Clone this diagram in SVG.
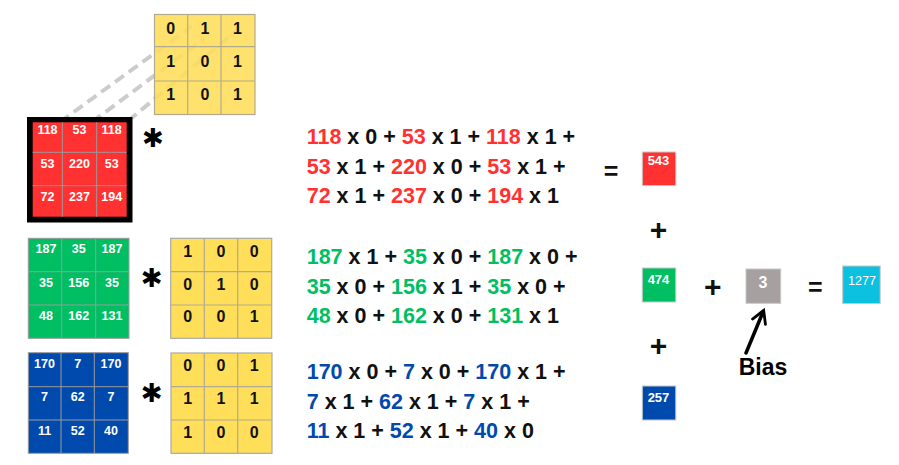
<svg xmlns="http://www.w3.org/2000/svg" width="899" height="465" viewBox="0 0 899 465">
<style>
text{font-family:"Liberation Sans",Arial,sans-serif;font-weight:bold}
.cw{fill:#fff;font-size:12.5px;text-anchor:middle}
.ck{fill:#111;font-size:16px;text-anchor:middle}
.eq{font-size:21.5px;fill:#111}
.r{fill:#FF3131}.g{fill:#00BF63}.b{fill:#004AAD}
.grid{stroke:#9a9a9a;stroke-width:1;fill:none}
.ygrid{stroke:#b3aa8e;stroke-width:1.2;fill:none}
.sign{font-size:30px;fill:#111;text-anchor:middle}
.eqs{font-size:25px;fill:#111;text-anchor:middle}
.star{font-family:"DejaVu Sans",sans-serif;font-size:26px;fill:#000;text-anchor:middle}
.dash{stroke:#cccccc;stroke-width:4;stroke-dasharray:11 6;fill:none}
.sq{stroke:#c8c8c8;stroke-width:1}
.sqt{fill:#fff;font-size:13px;text-anchor:middle}
</style>
<defs>
<marker id="ah" viewBox="0 0 10 10" refX="7" refY="5" markerWidth="5" markerHeight="5" orient="auto" markerUnits="strokeWidth">
<path d="M1,1 L8,5 L1,9" fill="none" stroke="#000" stroke-width="1.6" stroke-linecap="round"/>
</marker>
</defs>
<rect width="899" height="465" fill="#fff"/>

<g id="connectors">
<line class="dash" x1="60" y1="122" x2="192" y2="26"/>
<line class="dash" x1="92" y1="122" x2="205" y2="38"/>
<line class="dash" x1="128" y1="121" x2="235" y2="32"/>
<line x1="746" y1="353" x2="763" y2="312" stroke="#000" stroke-width="3.5" stroke-linecap="round" marker-end="url(#ah)"/>
</g>

<g id="kernel1">
<rect x="154.5" y="14.5" width="100.5" height="100" fill="#FFDE59" fill-opacity="0.88" stroke="#b3aa8e" stroke-width="1.2"/>
<path class="ygrid" d="M187.7,14.5V114.5M221,14.5V114.5M154.5,46.7H255M154.5,81H255"/>
<text class="ck" x="170.7" y="33.5">0</text><text class="ck" x="205" y="33.5">1</text><text class="ck" x="237.5" y="33.5">1</text>
<text class="ck" x="170.7" y="67">1</text><text class="ck" x="205" y="67">0</text><text class="ck" x="237.5" y="67">1</text>
<text class="ck" x="170.7" y="100">1</text><text class="ck" x="205" y="100">0</text><text class="ck" x="237.5" y="100">1</text>
</g>

<g id="red-matrix">
<rect x="27" y="117" width="105.5" height="105.5" fill="#000"/>
<rect x="32.7" y="122.3" width="94" height="94.4" fill="#FF3131"/>
<path class="grid" d="M62.3,122.3V216.7M96.7,122.3V216.7M32.7,152.3H126.7M32.7,185.7H126.7"/>
<text class="cw" x="47.5" y="134">118</text><text class="cw" x="79.5" y="134">53</text><text class="cw" x="111.7" y="134">118</text>
<text class="cw" x="47.5" y="168">53</text><text class="cw" x="79.5" y="168">220</text><text class="cw" x="111.7" y="168">53</text>
<text class="cw" x="47.5" y="201">72</text><text class="cw" x="79.5" y="201">237</text><text class="cw" x="111.7" y="201">194</text>
</g>
<text id="star1" class="star" x="153" y="147">✱</text>

<g id="green-matrix">
<rect x="28.3" y="238.3" width="100.7" height="100" fill="#00BF63" stroke="#9a9a9a" stroke-width="1"/>
<path class="grid" d="M61.7,238.3V338.3M95.7,238.3V338.3M28.3,271.7H129M28.3,305H129"/>
<text class="cw" x="46" y="253.3">187</text><text class="cw" x="78.7" y="253.3">35</text><text class="cw" x="112" y="253.3">187</text>
<text class="cw" x="46" y="286.7">35</text><text class="cw" x="78.7" y="286.7">156</text><text class="cw" x="112" y="286.7">35</text>
<text class="cw" x="46" y="320">48</text><text class="cw" x="78.7" y="320">162</text><text class="cw" x="112" y="320">131</text>
</g>
<text id="star2" class="star" x="151.7" y="287">✱</text>
<g id="kernel2">
<rect x="170.7" y="238.3" width="101" height="100" fill="#FFDE59" stroke="#a9a9a9" stroke-width="1.2"/>
<path class="ygrid" d="M204.3,238.3V338.3M237.7,238.3V338.3M170.7,271.7H271.7M170.7,305H271.7"/>
<text class="ck" x="187.7" y="257.3">1</text><text class="ck" x="221" y="257.3">0</text><text class="ck" x="254.3" y="257.3">0</text>
<text class="ck" x="187.7" y="289.5">0</text><text class="ck" x="221" y="289.5">1</text><text class="ck" x="254.3" y="289.5">0</text>
<text class="ck" x="187.7" y="322.3">0</text><text class="ck" x="221" y="322.3">0</text><text class="ck" x="254.3" y="322.3">1</text>
</g>

<g id="blue-matrix">
<rect x="28.3" y="352.7" width="100" height="100.6" fill="#004AAD" stroke="#9a9a9a" stroke-width="1"/>
<path class="grid" d="M61,352.7V453.3M94.3,352.7V453.3M28.3,386.7H128.3M28.3,420H128.3"/>
<text class="cw" x="44.5" y="367.7">170</text><text class="cw" x="77.7" y="367.7">7</text><text class="cw" x="111" y="367.7">170</text>
<text class="cw" x="44.5" y="401">7</text><text class="cw" x="77.7" y="401">62</text><text class="cw" x="111" y="401">7</text>
<text class="cw" x="44.5" y="435">11</text><text class="cw" x="77.7" y="435">52</text><text class="cw" x="111" y="435">40</text>
</g>
<text id="star3" class="star" x="151.7" y="402">✱</text>
<g id="kernel3">
<rect x="171" y="353" width="101" height="100.3" fill="#FFDE59" stroke="#a9a9a9" stroke-width="1.2"/>
<path class="ygrid" d="M204.3,353V453.3M237.7,353V453.3M171,386.7H272M171,420H272"/>
<text class="ck" x="187.7" y="370.7">0</text><text class="ck" x="221" y="370.7">0</text><text class="ck" x="254.3" y="370.7">1</text>
<text class="ck" x="187.7" y="404">1</text><text class="ck" x="221" y="404">1</text><text class="ck" x="254.3" y="404">1</text>
<text class="ck" x="187.7" y="437.7">1</text><text class="ck" x="221" y="437.7">0</text><text class="ck" x="254.3" y="437.7">0</text>
</g>

<g id="eq-red">
<text class="eq" x="306.7" y="144.3"><tspan class="r">118</tspan> x 0 + <tspan class="r">53</tspan> x 1 + <tspan class="r">118</tspan> x 1 +</text>
<text class="eq" x="306.7" y="173.5"><tspan class="r">53</tspan> x 1 + <tspan class="r">220</tspan> x 0 + <tspan class="r">53</tspan> x 1 +</text>
<text class="eq" x="306.7" y="202.7"><tspan class="r">72</tspan> x 1 + <tspan class="r">237</tspan> x 0 + <tspan class="r">194</tspan> x 1</text>
</g>
<g id="eq-green">
<text class="eq" x="306.7" y="264.3"><tspan class="g">187</tspan> x 1 + <tspan class="g">35</tspan> x 0 + <tspan class="g">187</tspan> x 0 +</text>
<text class="eq" x="306.7" y="293.5"><tspan class="g">35</tspan> x 0 + <tspan class="g">156</tspan> x 1 + <tspan class="g">35</tspan> x 0 +</text>
<text class="eq" x="306.7" y="322.7"><tspan class="g">48</tspan> x 0 + <tspan class="g">162</tspan> x 0 + <tspan class="g">131</tspan> x 1</text>
</g>
<g id="eq-blue">
<text class="eq" x="306.7" y="379.3"><tspan class="b">170</tspan> x 0 + <tspan class="b">7</tspan> x 0 + <tspan class="b">170</tspan> x 1 +</text>
<text class="eq" x="306.7" y="408.5"><tspan class="b">7</tspan> x 1 + <tspan class="b">62</tspan> x 1 + <tspan class="b">7</tspan> x 1 +</text>
<text class="eq" x="306.7" y="437.7"><tspan class="b">11</tspan> x 1 + <tspan class="b">52</tspan> x 1 + <tspan class="b">40</tspan> x 0</text>
</g>

<text class="eqs" x="611" y="180">=</text>
<g id="out-red">
<rect class="sq" x="642.3" y="152" width="33.5" height="33.5" fill="#FF3131"/>
<text class="sqt" x="658.5" y="165">543</text>
</g>
<text class="sign" x="658.5" y="239.5">+</text>
<g id="out-green">
<rect class="sq" x="642.3" y="268" width="33.5" height="34" fill="#00BF63"/>
<text class="sqt" x="658.5" y="283.5">474</text>
</g>
<text class="sign" x="658.5" y="355.5">+</text>
<g id="out-blue">
<rect class="sq" x="642.3" y="386" width="33.5" height="34" fill="#004AAD"/>
<text class="sqt" x="658.5" y="401.5">257</text>
</g>
<text class="sign" x="712.7" y="297">+</text>
<g id="bias">
<rect class="sq" x="746" y="269" width="34.7" height="34.3" fill="#A6A0A0"/>
<text x="763" y="288.3" fill="#fff" font-size="16px" text-anchor="middle">3</text>
</g>
<text class="eqs" x="815.3" y="296">=</text>
<g id="result">
<rect class="sq" x="842.7" y="266" width="37.5" height="37.5" fill="#0CC0DF"/>
<text x="862" y="284.5" fill="#fff" font-size="12.5px" style="font-weight:normal" text-anchor="middle">1277</text>
</g>
<text id="bias-label" x="763" y="375" font-size="23px" fill="#000" text-anchor="middle">Bias</text>
</svg>
